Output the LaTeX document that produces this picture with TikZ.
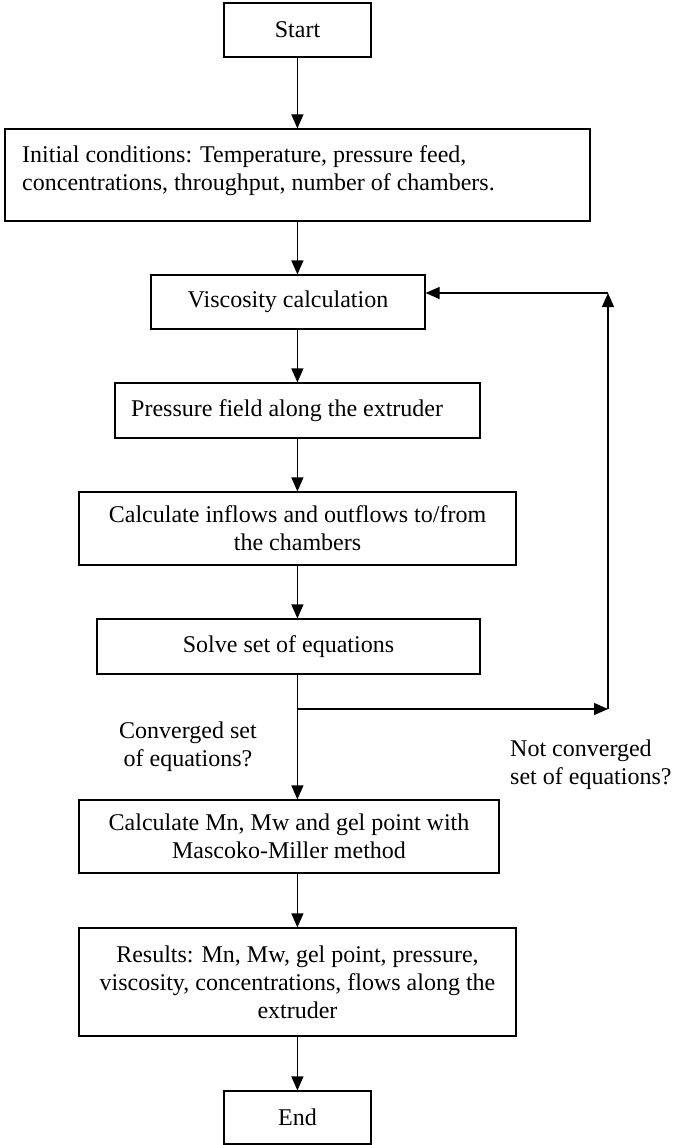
\documentclass[tikz,border=0pt]{standalone}
\usepackage{fontspec}
\setmainfont{Liberation Serif}
\usetikzlibrary{arrows.meta}
\begin{document}
\begin{tikzpicture}[x=1pt,y=1pt,
  box/.style={draw, line width=1.2pt, minimum width=#1, inner sep=0pt, align=center, font=\fontsize{24}{28}\selectfont},
  txt/.style={inner sep=0pt, font=\fontsize{24}{28}\selectfont},
  arr/.style={line width=1.2pt, -{Triangle[length=14pt, width=12pt]}}]
\useasboundingbox (0,0) rectangle (673,-1145);
\coordinate (ax) at (297.4,0);
\node[box=147pt, minimum height=54pt] (start) at (297.5,-30) {Start};
\node[box=585pt, minimum height=92pt] (init) at (297.5,-175) {};
\node[txt, anchor=base west, align=left] (initt) at (22,-190) {Initial conditions: Temperature, pressure feed,\\concentrations, throughput, number of chambers.};
\node[box=274pt, minimum height=54pt] (visc) at (288,-302) {Viscosity calculation};
\node[box=365pt, minimum height=55pt] (press) at (297.5,-410.5) {};
\node[txt, anchor=west] (presst) at (131,-410.5) {Pressure field along the extruder};
\node[box=437pt, minimum height=73pt] (inflow) at (297.5,-528.5) {Calculate inflows and outflows to/from\\the chambers};
\node[box=383pt, minimum height=55pt] (solve) at (288.5,-646.5) {Solve set of equations};
\node[box=420pt, minimum height=73pt] (mn) at (289,-836.5) {Calculate Mn, Mw and gel point with\\Mascoko-Miller method};
\node[box=437pt, minimum height=108pt] (res) at (297.5,-982) {Results: Mn, Mw, gel point, pressure,\\viscosity, concentrations, flows along the\\extruder};
\node[box=147pt, minimum height=53pt] (end) at (297.5,-1117.5) {End};
\node[txt, align=center] (conv) at (188,-746.5) {Converged set\\of equations?};
\node[txt, align=left, anchor=west] (nconv) at (510,-765) {Not converged\\set of equations?};
\coordinate (br) at (297.4,-709);
\coordinate (fb) at (608,-709);
\coordinate (ft) at (608,-293);
\draw[arr] (start.south -| ax) -- (init.north -| ax);
\draw[arr] (init.south -| ax) -- (visc.north -| ax);
\draw[arr] (visc.south -| ax) -- (press.north -| ax);
\draw[arr] (press.south -| ax) -- (inflow.north -| ax);
\draw[arr] (inflow.south -| ax) -- (solve.north -| ax);
\draw[arr] (solve.south -| ax) -- (mn.north -| ax);
\draw[arr] (mn.south -| ax) -- (res.north -| ax);
\draw[arr] (res.south -| ax) -- (end.north -| ax);
\draw[arr] (br) -- (fb);
\draw[arr] (fb) -- (ft);
\draw[arr] (ft) -- (visc.east |- ft);
\end{tikzpicture}
\end{document}
